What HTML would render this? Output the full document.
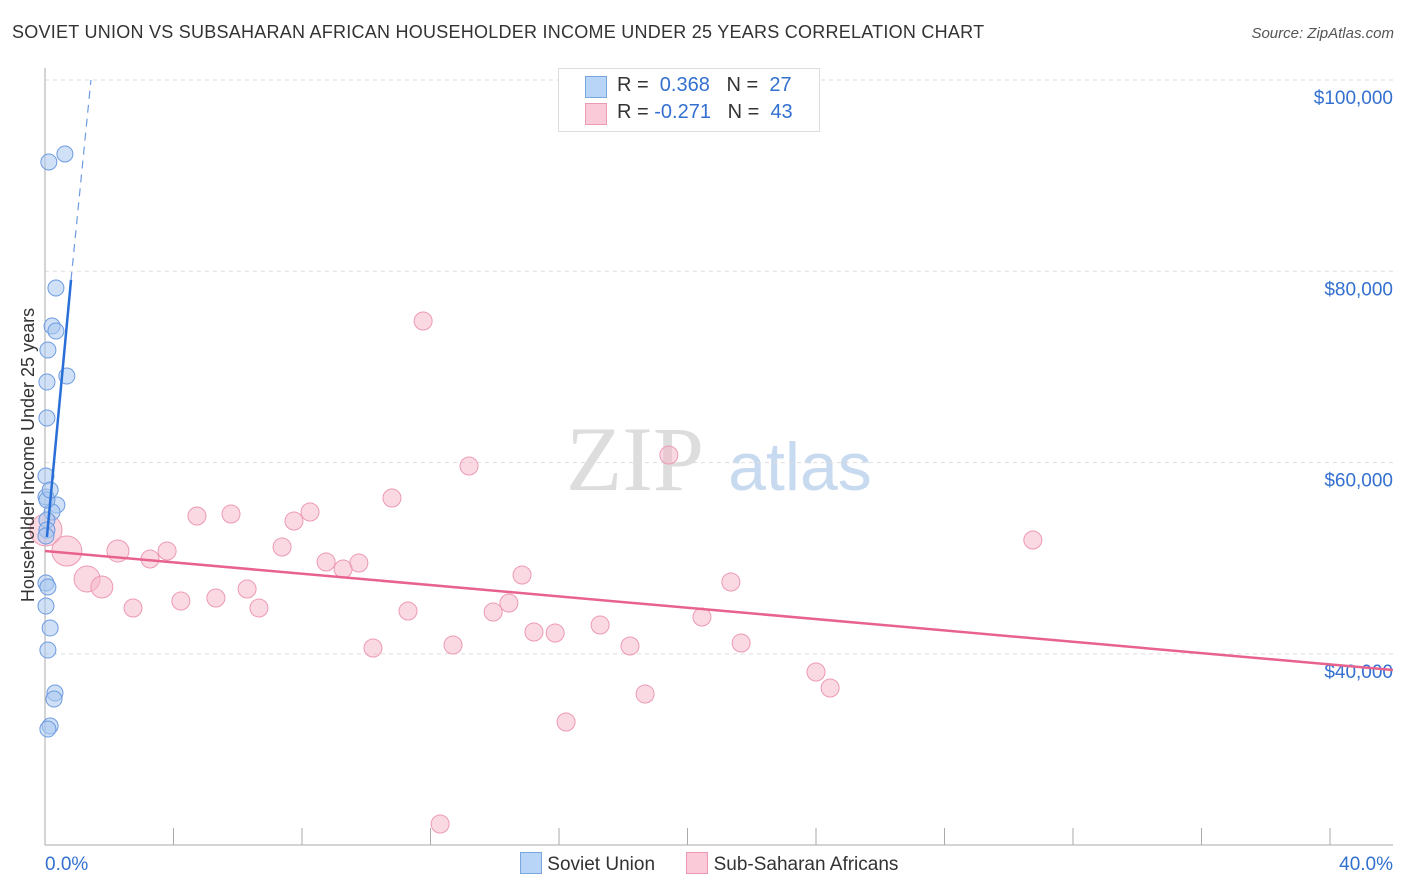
<!DOCTYPE html>
<html><head><meta charset="utf-8"><style>
body{margin:0;background:#fff;font-family:"Liberation Sans",sans-serif;}
#wrap{position:relative;width:1406px;height:892px;overflow:hidden;}
.t{position:absolute;white-space:nowrap;}
</style></head><body>
<div id="wrap">
<div class="t" style="left:12px;top:22px;font-size:18px;letter-spacing:0.25px;color:#333;">SOVIET UNION VS SUBSAHARAN AFRICAN HOUSEHOLDER INCOME UNDER 25 YEARS CORRELATION CHART</div>
<div class="t" style="right:12px;top:25px;font-size:15px;color:#555;font-style:italic;">Source: ZipAtlas.com</div>
<svg id="svg" width="1406" height="892" style="position:absolute;left:0;top:0;">
<text x="635" y="490" font-family="Liberation Serif" font-size="92" fill="#ddd" text-anchor="middle">ZIP</text>
<text x="800" y="490" font-family="Liberation Sans" font-size="68" fill="#c8daf0" text-anchor="middle">atlas</text>
<g id="grid"></g><g id="marks"></g>
<text x="34" y="455" transform="rotate(-90 34 455)" font-size="18" fill="#333" text-anchor="middle">Householder Income Under 25 years</text>
</svg>
<div style="position:absolute;left:558px;top:68px;width:260px;height:62px;border:1px solid #ddd;background:#fff;font-size:20px;">
<div style="position:absolute;left:26px;top:7px;width:20px;height:20px;background:#b8d4f6;border:1px solid #7aa6e0;"></div>
<div class="t" style="left:58px;top:5px;color:#333;">R = &nbsp;<span style="color:#3370d0">0.368</span>&nbsp;&nbsp;&nbsp;N = &nbsp;<span style="color:#3370d0">27</span></div>
<div style="position:absolute;left:26px;top:34px;width:20px;height:20px;background:#fbcad8;border:1px solid #ec9ab4;"></div>
<div class="t" style="left:58px;top:32px;color:#333;">R = <span style="color:#3370d0">-0.271</span>&nbsp;&nbsp;&nbsp;N = &nbsp;<span style="color:#3370d0">43</span></div>
</div>
<div style="position:absolute;left:520px;top:852px;font-size:19px;color:#333;">
<span style="display:inline-block;width:20px;height:20px;background:#b8d4f6;border:1px solid #7aa6e0;vertical-align:-4px;"></span> Soviet Union
<span style="display:inline-block;width:20px;height:20px;background:#fbcad8;border:1px solid #ec9ab4;vertical-align:-4px;margin-left:26px;"></span> Sub-Saharan Africans
</div>
</div>
<script>
const yTicks=[40000,60000,80000,100000];
const yTickLabels=["$40,000","$60,000","$80,000","$100,000"];
const xTickLabels=["0.0%","40.0%"];
const blueX=[0.12,0.62,0.34,0.22,0.34,0.09,0.68,0.06,0.06,0.03,0.03,0.37,0.22,0.06,0.06,0.03,0.03,0.09,0.03,0.16,0.09,0.31,0.28,0.16,0.09,0.06,0.16];
const blueY=[91427,92263,78253,74280,73757,71770,69052,68425,64661,58597,56401,55565,54833,53997,52951,52324,47410,46992,45005,42705,40405,35909,35282,32459,32146,56089,57135];
const pinkX=[0.03,0.68,1.31,1.77,2.27,2.74,3.27,3.80,4.23,4.73,5.32,5.79,6.29,6.66,7.38,7.75,8.25,8.75,9.28,9.77,10.21,10.80,11.30,11.77,12.30,12.70,13.20,13.95,14.44,14.85,15.22,15.88,16.22,17.28,18.21,18.68,19.42,20.45,21.35,21.67,24.00,24.44,30.75];
const pinkY=[52952,50755,47830,46993,50755,44798,49920,50755,45530,54416,45843,54625,46784,44798,51175,53893,54834,49607,48875,49502,40614,56298,44484,74804,22214,40928,59644,44380,45321,48248,42288,42183,32878,43020,40823,35805,60794,43856,47516,41137,38105,36432,51907];
const pinkR=[16,15,13,11,11,9,9,9,9,9,9,9,9,9,9,9,9,9,9,9,9,9,9,9,9,9,9,9,9,9,9,9,9,9,9,9,9,9,9,9,9,9,9];
const blueTrend=[[0.06,52220],[0.81,79100],[1.43,100000]];
const pinkTrend=[[0,50755],[41.96,38316]];
const X=p=>45+p*32.125, Y=v=>80+(100000-v)*0.009565;
const NS="http://www.w3.org/2000/svg";
const g=document.getElementById('grid'), m=document.getElementById('marks');
function mk(tag,at,par){const e=document.createElementNS(NS,tag);for(const k in at)e.setAttribute(k,at[k]);par.appendChild(e);return e;}
yTicks.forEach((v,i)=>{
 const l=mk('line',{x1:45,x2:1393,y1:Y(v),y2:Y(v),stroke:'#ddd','stroke-dasharray':'4,4'},g);
 
 
 const t=mk('text',{x:1393,y:Y(v)+24,'font-size':19,fill:'#3370d0','text-anchor':'end'},g);
 t.textContent=yTickLabels[i];
 
 
});
mk('line',{x1:45,x2:45,y1:68,y2:845,stroke:'#aaa'},g);
mk('line',{x1:45,x2:1393,y1:845,y2:845,stroke:'#aaa'},g);
for(let i=1;i<=10;i++){const l=mk('line',{x1:X(i*4),x2:X(i*4),y1:828,y2:845,stroke:'#aaa'},g);
 
 }
[[0,'start'],[40,'end']].forEach((a,i)=>{const t=mk('text',{x:i?1393:45,y:870,'font-size':19,fill:'#3370d0','text-anchor':a[1]},g);t.textContent=xTickLabels[i];
 
 });
pinkX.forEach((p,i)=>{const c=mk('circle',{cx:X(p),cy:Y(pinkY[i]),r:pinkR[i],fill:'rgba(248,180,200,0.5)',stroke:'#ec9ab4','stroke-width':1},m);
 
 });
blueX.forEach((p,i)=>{const c=mk('circle',{cx:X(p),cy:Y(blueY[i]),r:8,fill:'rgba(170,200,240,0.55)',stroke:'#6d9be0','stroke-width':1},m);
 
 });
let l=mk('line',{x1:X(blueTrend[0][0]),y1:Y(blueTrend[0][1]),x2:X(blueTrend[1][0]),y2:Y(blueTrend[1][1]),stroke:'#2a6fd8','stroke-width':2.5},m);


l=mk('line',{x1:X(blueTrend[1][0]),y1:Y(blueTrend[1][1]),x2:X(blueTrend[2][0]),y2:Y(blueTrend[2][1]),stroke:'#6d9be0','stroke-width':1.2,'stroke-dasharray':'8,6'},m);


l=mk('line',{x1:X(pinkTrend[0][0]),y1:Y(pinkTrend[0][1]),x2:X(pinkTrend[1][0]),y2:Y(pinkTrend[1][1]),stroke:'#e8628e','stroke-width':2.5},m);


</script>
</body></html>
